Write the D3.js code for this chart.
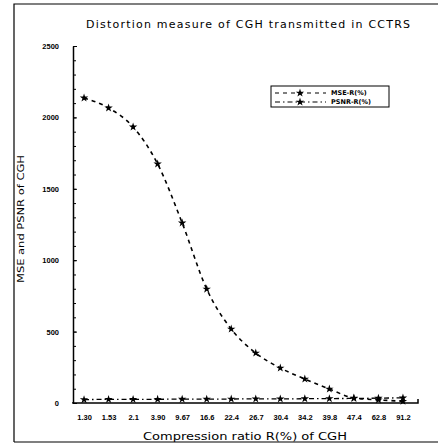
<!DOCTYPE html>
<html>
<head>
<meta charset="utf-8">
<script src="https://cdn.jsdelivr.net/npm/d3@7"></script>
<style>
  body { margin: 0; background: #fff; }
  svg { display: block; font-family: "DejaVu Sans", Arial, sans-serif; }
</style>
</head>
<body>
<div id="chart"></div>
<script>
// Data
const ratios = ["1.30", "1.53", "2.1", "3.90", "9.67", "16.6", "22.4", "26.7", "30.4", "34.2", "39.8", "47.4", "62.8", "91.2"];
const mseValues = [2136, 2066, 1933, 1674, 1261, 798, 518, 350, 245, 168, 98, 35, 22, 12];
const psnrValues = [24, 25, 25, 26, 27, 27, 28, 29, 29, 30, 31, 32, 34, 36];
const yTicks = [0, 500, 1000, 1500, 2000, 2500];

const W = 438, H = 447;
const svg = d3.select("#chart").append("svg").attr("width", W).attr("height", H);

// outer frame
svg.append("path")
  .attr("d", "M14,442 L14,4 L440,4 M14,442 L440,442")
  .attr("fill", "none").attr("stroke", "#000").attr("stroke-width", 1.2);

// scales
const x = d3.scalePoint().domain(ratios).range([73, 414]).padding(0.45);
const y = d3.scaleLinear().domain([0, 2500]).range([403, 46]);

// title
svg.append("text")
  .attr("x", 86).attr("y", 28)
  .attr("textLength", 324).attr("lengthAdjust", "spacing")
  .style("font-size", "11px")
  .text("Distortion measure of CGH transmitted in CCTRS");

// y axis (minor ticks every 100)
svg.append("g").attr("transform", "translate(73,0)")
  .call(d3.axisLeft(y).tickValues(d3.range(0, 2501, 100)).tickFormat("").tickSize(-3).tickSizeOuter(0))
  .call(g => g.select(".domain").attr("stroke-width", 1.5));
svg.append("g").attr("transform", "translate(73,0)")
  .call(d3.axisLeft(y).tickValues(yTicks).tickFormat(d3.format("d")).tickSize(-4).tickSizeOuter(0).tickPadding(14))
  .call(g => g.select(".domain").remove())
  .call(g => g.selectAll("text").style("font-size", "7.5px").style("font-weight", "bold").attr("fill", "#000").attr("font-family", null));

// x axis
svg.append("g").attr("transform", "translate(0,403)")
  .call(d3.axisBottom(x).tickSize(0).tickPadding(12))
  .call(g => g.select(".domain").attr("d", "M73,-1V0H418V-4").attr("stroke-width", 1.5))
  .call(g => g.selectAll("text").style("font-size", "7.5px").style("font-weight", "bold").attr("fill", "#000").attr("font-family", null));

// axis titles
svg.append("text")
  .attr("x", 143).attr("y", 440)
  .attr("textLength", 204).attr("lengthAdjust", "spacingAndGlyphs")
  .style("font-size", "10.5px")
  .text("Compression ratio R(%) of CGH");

svg.append("text")
  .attr("transform", "translate(24,283) rotate(-90)")
  .attr("textLength", 128).attr("lengthAdjust", "spacingAndGlyphs")
  .style("font-size", "9px")
  .text("MSE and PSNR of CGH");

// lines
const line = d3.line().x((d, i) => x(ratios[i])).y(d => y(d)).curve(d3.curveMonotoneX);
const star = d3.symbol().type(d3.symbolStar).size(22);

svg.append("path").datum(psnrValues)
  .attr("d", line).attr("fill", "none").attr("stroke", "#000")
  .attr("stroke-width", 1.3).attr("stroke-dasharray", "5,3,1.5,3");
svg.append("path").datum(mseValues)
  .attr("d", line).attr("fill", "none").attr("stroke", "#000")
  .attr("stroke-width", 1.6).attr("stroke-dasharray", "4,4");

svg.selectAll(".psnr").data(psnrValues).enter().append("path")
  .attr("class", "psnr")
  .attr("transform", (d, i) => `translate(${x(ratios[i])},${y(d)})`)
  .attr("d", star).attr("fill", "#000");
svg.selectAll(".mse").data(mseValues).enter().append("path")
  .attr("class", "mse")
  .attr("transform", (d, i) => `translate(${x(ratios[i])},${y(d)})`)
  .attr("d", star).attr("fill", "#000");

// legend
const lg = svg.append("g");
lg.append("rect").attr("x", 271).attr("y", 86).attr("width", 118).attr("height", 21)
  .attr("fill", "#fff").attr("stroke", "#000").attr("stroke-width", 1);
const legendItems = [
  { name: "MSE-R(%)", dash: "4,4", y: 93 },
  { name: "PSNR-R(%)", dash: "5,3,1.5,3", y: 102 }
];
legendItems.forEach(item => {
  lg.append("line").attr("x1", 275).attr("x2", 326).attr("y1", item.y).attr("y2", item.y)
    .attr("stroke", "#000").attr("stroke-width", 1.2).attr("stroke-dasharray", item.dash);
  lg.append("path").attr("transform", `translate(300,${item.y})`).attr("d", star).attr("fill", "#000");
  lg.append("text").attr("x", 331).attr("y", item.y).attr("dy", "0.35em")
    .style("font-size", "6.5px").style("font-weight", "bold").text(item.name);
});
</script>
</body>
</html>
